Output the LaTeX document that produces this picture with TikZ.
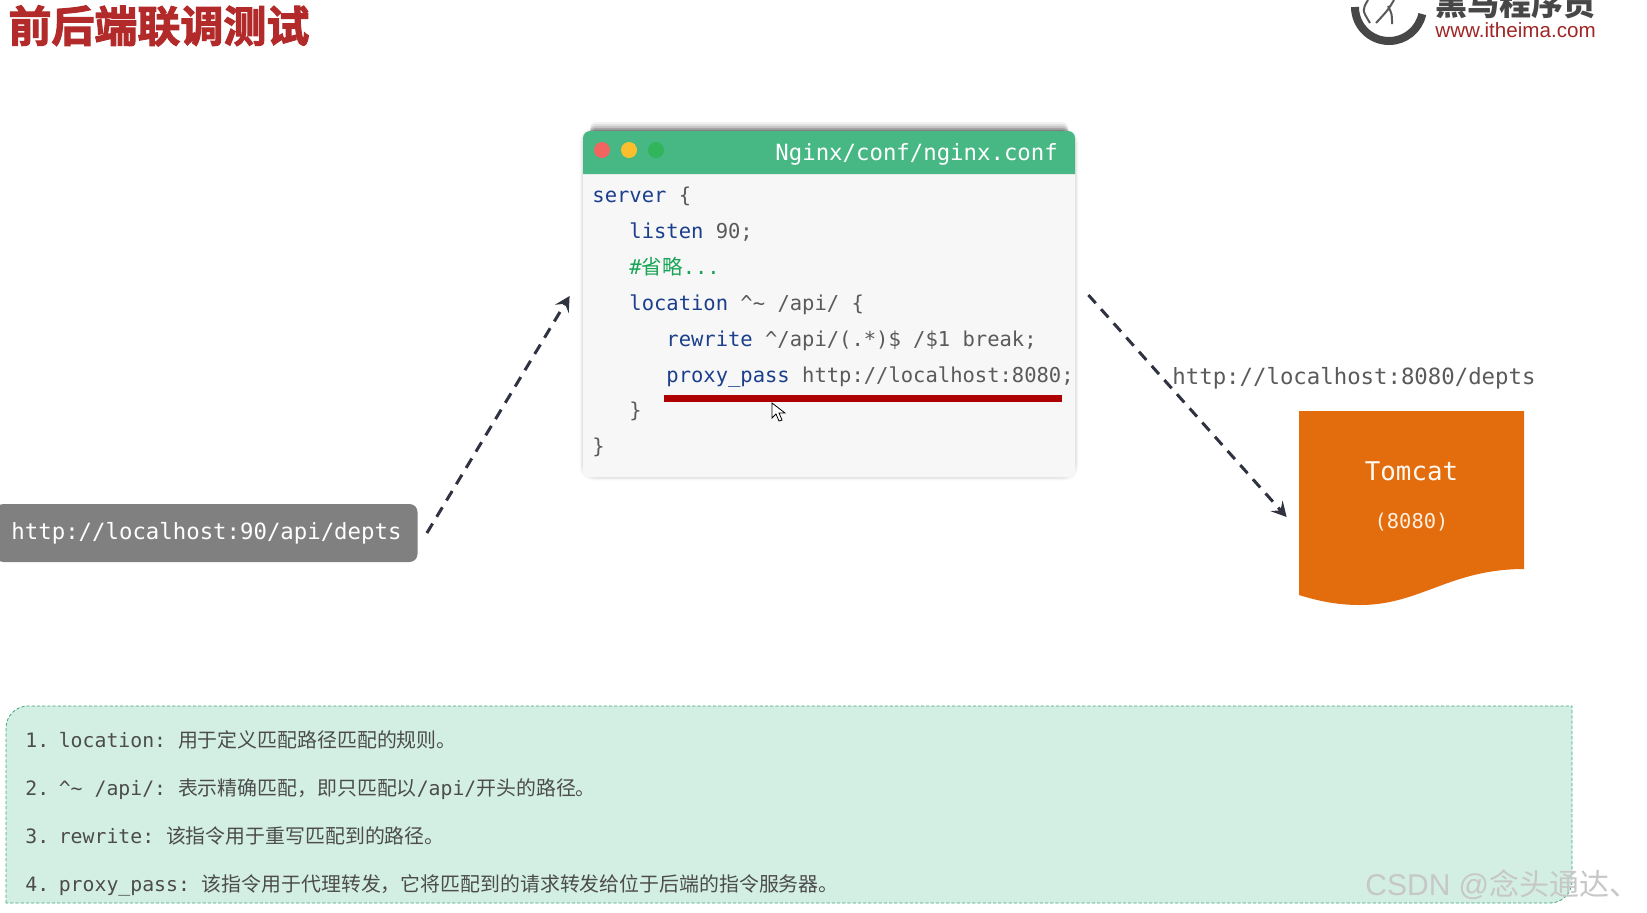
\documentclass[tikz,border=0pt]{standalone}
\usepackage{xcolor}
\usepackage{fontspec}
\newfontfamily\codefont{DejaVu Sans Mono}
\newfontfamily\cjkfont{Noto Sans CJK SC}
\newfontfamily\titlefont[FakeBold=2.5]{Noto Sans CJK SC Bold}
\newfontfamily\webfont{Liberation Sans}
\definecolor{kwblue}{HTML}{1C3F8C}
\definecolor{codegray}{HTML}{5A5A5A}
\definecolor{notegreen}{HTML}{17A454}
\definecolor{barred}{HTML}{AE0000}
\definecolor{headgreen}{HTML}{47B784}
\definecolor{arrowdark}{HTML}{2F3240}
\definecolor{tomcatorange}{HTML}{E36C0D}
\definecolor{tipfill}{HTML}{D3EFE3}
\definecolor{tipedge}{HTML}{3FA67C}
\definecolor{slidered}{HTML}{B22A2A}
\definecolor{dotred}{HTML}{F0655F}
\definecolor{dotyellow}{HTML}{FBBF2E}
\definecolor{dotgreen}{HTML}{30B55C}
\newcommand{\kw}[1]{\textcolor{kwblue}{#1}}
\newcommand{\zh}[1]{{\cjkfont\fontsize{9.95}{12}\selectfont #1}}
\newcommand{\tipnum}[1]{#1.\hspace{-3.15pt} }
\newcommand{\tipgap}{:\hspace{-2pt} }
\usetikzlibrary{arrows.meta}
\tikzset{
  codeline/.style={anchor=base west, inner sep=0pt, text=codegray,
    font=\codefont\fontsize{10.25}{12}\selectfont},
  tipline/.style={anchor=base west, inner sep=0pt, text=black!70,
    font=\codefont\fontsize{9.9}{12}\selectfont},
  urlfont/.style={font=\codefont\fontsize{11.17}{13}\selectfont},
  flow/.style={draw=arrowdark, line width=1.5pt, dash pattern=on 5.5pt off 4pt,
    -{Stealth[length=7.5pt,width=8pt,inset=3pt]}},
}
\begin{document}
\begin{tikzpicture}[x=0.5pt, y=-0.5pt]
\useasboundingbox (0,0) rectangle (1647,912);
\node[anchor=base west, inner sep=0pt, text=slidered, font=\titlefont\fontsize{21.5}{24}\selectfont]
  (title) at (8,42) {前后端联调测试};
\draw[black!72, line width=4pt] (1355,7) arc[start angle=180, end angle=12, radius=34];
\draw[black!65, line width=1pt] (1368,0) .. controls (1362,10) .. (1370,23)
  (1394,0) .. controls (1388,10) .. (1376,23) (1388,6) .. controls (1392,14) .. (1392,24);
\node[anchor=base west, inner sep=0pt, text=black!72, font=\cjkfont\bfseries\fontsize{16}{18}\selectfont]
  (brand) at (1435,15) {黑马程序员};
\node[anchor=base west, inner sep=0pt, text=slidered!90!black, font=\webfont\fontsize{10.3}{12}\selectfont]
  (site) at (1435,37) {www.itheima.com};
\foreach \s/\o in {1/.05, 3/.04, 5/.03, 7/.02} {
  \fill[black, opacity=\o, rounded corners=7pt]
    (583-\s/2,131-\s/2) rectangle (1075+\s/2,477+\s/2);
}
\foreach \s/\o in {1/.16, 3/.14, 5/.11, 7/.08, 9/.05} {
  \fill[black, opacity=\o, rounded corners=3pt]
    (590,131-\s) rectangle (1068,136);
}
\node[fill=black!3, rounded corners=3.5pt, inner sep=0pt, minimum width=246pt, minimum height=173pt]
  (nginx) at (829,304) {};
\fill[headgreen] (583,174) [rounded corners=3.5pt] -- (583,131) -- (1075,131) [sharp corners] -- (1075,174) -- cycle;
\fill[dotred] (602,150) circle (8);
\fill[dotyellow] (629,150) circle (8);
\fill[dotgreen] (656,150) circle (8);
\node[anchor=base west, inner sep=0pt, text=white, urlfont] (path) at (775,160) {Nginx/conf/nginx.conf};
\node[codeline] (l1) at (592,202) {\kw{server} \{};
\node[codeline] (l2) at (629,238) {\kw{listen} 90;};
\node[codeline] (l3) at (629,274) {\textcolor{notegreen}{\#{\cjkfont 省略}...}};
\node[codeline] (l4) at (629,310) {\kw{location} \textasciicircum\textasciitilde{} /api/ \{};
\node[codeline] (l5) at (666,346) {\kw{rewrite} \textasciicircum/api/(.*)\$ /\$1 break;};
\node[codeline] (l6) at (666,382) {\kw{proxy\_pass} http://localhost:8080;};
\node[codeline] (l7) at (629,417) {\}};
\node[codeline] (l8) at (592,453) {\}};
\fill[barred] (664,395) rectangle (1062,402);
\draw[black, fill=white, line width=0.4pt] (772,403) -- (772,418) -- (776,414) -- (779,421) -- (782,420) -- (779,413) -- (785,413) -- cycle;
\node[fill=black!50, rounded corners=4pt, inner sep=0pt, minimum width=211pt, minimum height=29pt,
  text=white, urlfont] (client) at (206.5,533) {http://localhost:90/api/depts};
\fill[tomcatorange] (1299,411) -- (1524,411) -- (1524,569)
  .. controls (1450,569) and (1420,605) .. (1360,605)
  .. controls (1335,605) and (1315,600) .. (1299,595) -- cycle;
\node[inner sep=0pt, minimum width=112.5pt, minimum height=97pt] (tomcat) at (1411.5,508) {};
\node[anchor=base, inner sep=0pt, text=white!95!orange, font=\codefont\fontsize{12.9}{14}\selectfont]
  (tomcatname) at (1411.5,480) {Tomcat};
\node[anchor=base, inner sep=0pt, text=white!88!orange, font=\codefont\fontsize{10.2}{12}\selectfont]
  (tomcatport) at (1411.5,528) {(8080)};
\node[anchor=base west, inner sep=0pt, text=codegray, urlfont] (target) at (1172,384) {http://localhost:8080/depts};
\draw[flow] ([xshift=4.5pt]client.east) -- ([xshift=-6.5pt,yshift=4pt]nginx.west);
\draw[flow] ([xshift=6.5pt,yshift=4.5pt]nginx.east) -- ([xshift=-6pt,yshift=-4.5pt]tomcat.west);
\draw[tipedge, fill=tipfill, line width=0.4pt, dash pattern=on 1.6pt off 1pt]
  (6,903) [rounded corners=11pt] -- (6,706) [sharp corners] -- (1572,706)
  [rounded corners=11pt] -- (1572,903) [sharp corners] -- cycle;
\node[tipline] (t1) at (25,747) {\tipnum{1}location\tipgap\zh{用于定义匹配路径匹配的规则。}};
\node[tipline] (t2) at (25,795) {\tipnum{2}\textasciicircum\textasciitilde{} /api/\tipgap\zh{表示精确匹配，即只匹配以}/api/\zh{开头的路径。}};
\node[tipline] (t3) at (25,843) {\tipnum{3}rewrite\tipgap\zh{该指令用于重写匹配到的路径。}};
\node[tipline] (t4) at (25,891) {\tipnum{4}proxy\_pass\tipgap\zh{该指令用于代理转发，它将匹配到的请求转发给位于后端的指令服务器。}};
\node[anchor=base west, inner sep=0pt, text=black!22, font=\webfont\fontsize{15}{18}\selectfont]
  (mark) at (1365,895) {CSDN @{\cjkfont 念头通达、}};
\end{tikzpicture}
\end{document}
